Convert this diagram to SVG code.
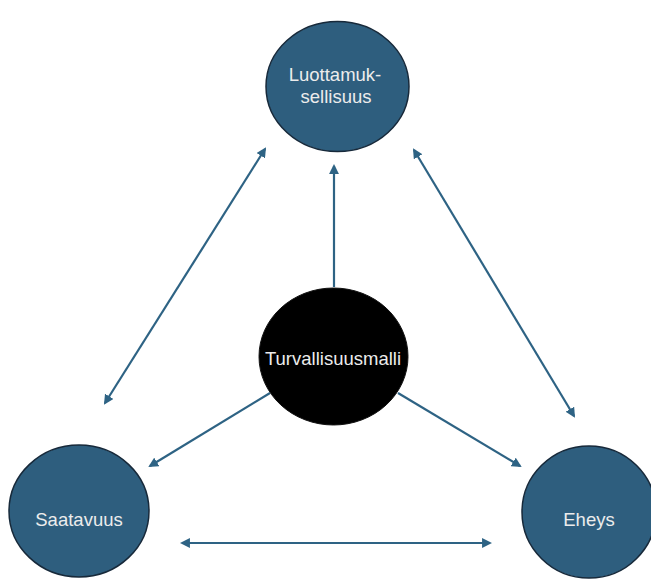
<svg xmlns="http://www.w3.org/2000/svg" width="651" height="579" viewBox="0 0 651 579">
<defs>
<style>
.node{fill:#2E5E7E;stroke:#17293A;stroke-width:1.5}
.core{fill:#000;stroke:#111;stroke-width:1}
.lbl{font-family:"Liberation Sans",Arial,sans-serif;font-size:18.5px;fill:#ECECEC;text-anchor:middle}
.con{stroke:#2E6384;stroke-width:2.2;fill:none}
</style>
<marker id="ah" viewBox="0 0 10 10" refX="8" refY="5" markerWidth="4.5" markerHeight="4.5" orient="auto-start-reverse" markerUnits="strokeWidth">
<path d="M0,0 L10,5 L0,10 z" fill="#2E6384"/>
</marker>
</defs>
<rect width="651" height="579" fill="#fff"/>
<g id="connectors">
<line class="con" x1="105" y1="403" x2="265" y2="149" marker-start="url(#ah)" marker-end="url(#ah)"/>
<line class="con" x1="414" y1="150" x2="574" y2="416" marker-start="url(#ah)" marker-end="url(#ah)"/>
<line class="con" x1="334" y1="287" x2="334" y2="166" marker-end="url(#ah)"/>
<line class="con" x1="270" y1="393" x2="150" y2="466" marker-end="url(#ah)"/>
<line class="con" x1="398" y1="393" x2="520" y2="466" marker-end="url(#ah)"/>
<line class="con" x1="182" y1="543" x2="490" y2="543" marker-start="url(#ah)" marker-end="url(#ah)"/>
</g>
<g id="luottamuksellisuus">
<ellipse class="node" cx="337.5" cy="86.5" rx="71.5" ry="65"/>
<text class="lbl" x="335" y="81">Luottamuk-</text>
<text class="lbl" x="336" y="103">sellisuus</text>
</g>
<g id="turvallisuusmalli">
<ellipse class="core" cx="333.5" cy="356.5" rx="74.5" ry="68.5"/>
<text class="lbl" x="333" y="365">Turvallisuusmalli</text>
</g>
<g id="saatavuus">
<ellipse class="node" cx="79" cy="511" rx="70" ry="66"/>
<text class="lbl" x="79" y="526">Saatavuus</text>
</g>
<g id="eheys">
<ellipse class="node" cx="589" cy="512" rx="67" ry="66"/>
<text class="lbl" x="589" y="526">Eheys</text>
</g>
</svg>
